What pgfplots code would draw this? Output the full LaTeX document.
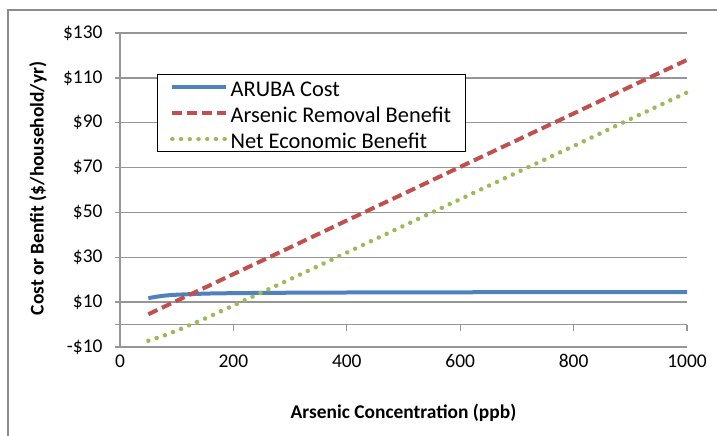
\documentclass[border=0pt]{standalone}
\usepackage{pgfplots}
\pgfplotsset{compat=1.18}
\usepackage{pgfplotstable}
\usepackage{fontspec}
\setmainfont{Carlito}
\definecolor{cblue}{RGB}{79,129,189}
\definecolor{cred}{RGB}{192,80,77}
\definecolor{cgreen}{RGB}{155,187,89}
\definecolor{cgrid}{RGB}{150,150,150}
\definecolor{cborder}{RGB}{140,140,140}
\pgfplotstableread{
x cost benefit net
50 11.8 4.6 -7.2
75 12.8 7.6 -5.2
100 13.3 10.6 -2.7
150 13.8 16.5 2.7
200 14.0 22.5 8.5
300 14.2 34.4 20.2
400 14.3 46.4 32.1
500 14.35 58.3 44.0
600 14.4 70.3 55.9
700 14.45 82.2 67.8
800 14.5 94.1 79.6
900 14.5 106.1 91.6
1000 14.5 118.0 103.5
}\datatable
\begin{document}
\begin{tikzpicture}
\useasboundingbox (-120bp,-89bp) rectangle (597bp,347bp);
\draw[cborder, line width=1.5bp] (-112bp,-95bp) -- (-112bp,337bp) -- (605bp,337bp);
\begin{axis}[
  at={(0,0)}, anchor=south west,
  scale only axis, width=567bp, height=314bp,
  xmin=0, xmax=1000, ymin=-10, ymax=130,
  axis lines*=left,
  axis line style={cgrid, line width=1.3bp},
  xtick={0,200,400,600,800,1000},
  xticklabels={0,200,400,600,800,1000},
  ytick={-10,10,30,50,70,90,110,130},
  yticklabels={-\$10,\$10,\$30,\$50,\$70,\$90,\$110,\$130},
  ymajorgrids,
  grid style={cgrid, line width=1.3bp},
  ytick style={cgrid, line width=1.3bp},
  xtick style={draw=none},
  tick align=outside,
  major tick length=5bp,
  ticklabel style={font=\fontsize{19.5}{22}\selectfont},
  yticklabel style={xshift=-9bp},
  xticklabel style={yshift=1bp},
  xlabel={Arsenic Concentration (ppb)},
  ylabel={Cost or Benfit (\$/household/yr)},
  every axis y label/.style={at={(axis description cs:-0.1446,0.505)}, rotate=90, anchor=center, font=\fontsize{19.5}{23}\selectfont\bfseries},
  every axis x label/.style={at={(axis description cs:0.5,-0.210)}, anchor=center, font=\fontsize{19.5}{23}\selectfont\bfseries},
  legend style={at={(axis description cs:0.0653,0.869)}, anchor=north west,
    draw=black, line width=1.2bp, font=\fontsize{22.5}{25}\selectfont,
    inner xsep=12.5bp, inner ysep=0.5bp, row sep=3bp, column sep=0bp,
    nodes={inner sep=2bp, text height=19.2bp, text depth=0bp}},
  legend cell align=left,
  legend image code/.code={\draw[#1] (0bp,0bp) -- (54bp,0bp);},
  clip=false,
  unbounded coords=jump,
]
\addplot[cgrid, line width=1.3bp, forget plot] coordinates {
  (-8.8,0) (1000,0) (nan,nan)
  (200,0) (200,-2.9) (nan,nan)
  (400,0) (400,-2.9) (nan,nan)
  (600,0) (600,-2.9) (nan,nan)
  (800,0) (800,-2.9) (nan,nan)
  (1000,0) (1000,-2.9)};
\addplot[cblue, line width=4bp, smooth, no marks] table[x=x,y=cost]{\datatable};
\addlegendentry{ARUBA Cost}
\addplot[cred, line width=4bp, dash pattern=on 10bp off 5bp, no marks] table[x=x,y=benefit]{\datatable};
\addlegendentry{Arsenic Removal Benefit}
\addplot[cgreen, line width=4.5bp, line cap=round, dash pattern=on 0.01bp off 8.7bp, no marks] table[x=x,y=net]{\datatable};
\addlegendentry{Net Economic Benefit}
\end{axis}
\end{tikzpicture}
\end{document}
